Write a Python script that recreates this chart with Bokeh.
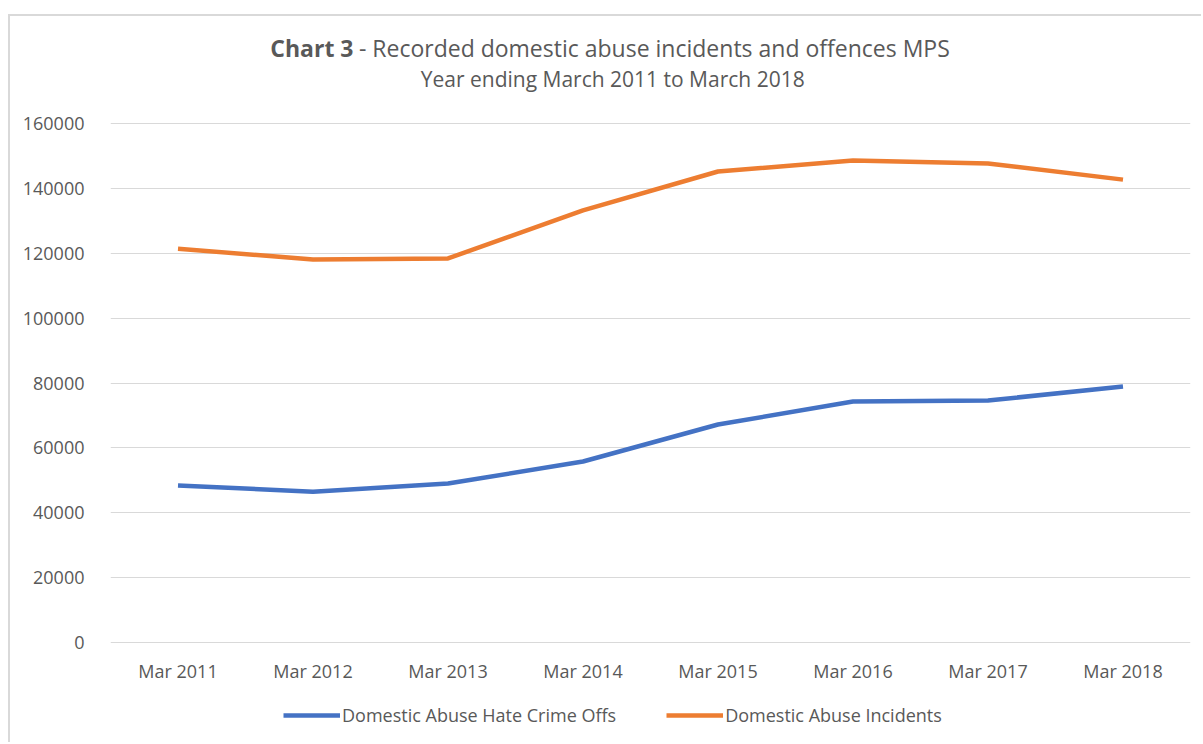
from bokeh.plotting import figure
from bokeh.models import Legend, LegendItem, ColumnDataSource, Range1d, BasicTickFormatter
from bokeh.core.properties import value
from bokeh.embed import file_html
from bokeh.resources import INLINE

categories = ["Mar 2011", "Mar 2012", "Mar 2013", "Mar 2014", "Mar 2015", "Mar 2016", "Mar 2017", "Mar 2018"]
hate_crime_offs = [48400, 46500, 49000, 55800, 67200, 74300, 74600, 78900]
incidents = [121400, 118100, 118400, 133200, 145200, 148600, 147700, 142700]
y_ticks = [0, 20000, 40000, 60000, 80000, 100000, 120000, 140000, 160000]
title_bold = "Chart 3"
title_rest = "- Recorded domestic abuse incidents and offences MPS"
subtitle = "Year ending March 2011 to March 2018"

FONT = "Open Sans"
GRAY = "#595959"

# 160000 -> 519 px; page canvas placed at (10, 16)
PX = 160000 / 519.0
p = figure(x_range=categories, y_range=Range1d(-(744 - 642) * PX, (642 - 16) * PX),
           x_axis_location=None,
           width=1193, height=728, output_backend="svg", toolbar_location=None,
           min_border_left=100, min_border_right=13, min_border_top=0, min_border_bottom=0)
p.styles = {"margin-left": "8px", "margin-top": "14px",
            "border-left": "2px solid #d9d9d9", "border-top": "2px solid #d9d9d9"}
p.outline_line_color = None
p.background_fill_color = "white"
p.border_fill_color = "white"

p.xgrid.grid_line_color = None
p.ygrid.grid_line_color = "#d9d9d9"
p.ygrid.grid_line_width = 1
p.yaxis.ticker = y_ticks
p.yaxis.formatter = BasicTickFormatter(use_scientific=False)
p.yaxis.axis_line_color = None
p.yaxis.major_tick_line_color = None
p.yaxis.minor_tick_line_color = None
p.yaxis.major_label_text_font = FONT
p.yaxis.major_label_text_font_size = "18px"
p.yaxis.major_label_text_color = GRAY
p.yaxis.major_label_standoff = 20

src = ColumnDataSource(dict(cat=categories, blue=hate_crime_offs, orange=incidents,
                            lab_y=[-(670 - 642) * PX] * len(categories)))
r1 = p.line("cat", "blue", source=src, line_color="#4472C4", line_width=4.5)
r2 = p.line("cat", "orange", source=src, line_color="#ED7D31", line_width=4.5)

# category labels (x axis)
p.text(x="cat", y="lab_y", text="cat", source=src, text_font=value(FONT), text_font_size="18px",
       text_color=GRAY, text_align="center", text_baseline="middle")

# titles
p.text(x=[1.80], y=[(642 - 47) * PX], text=[title_bold], text_font=value(FONT), text_font_size="23px",
       text_font_style="bold", text_color=GRAY, text_align="right", text_baseline="middle")
p.text(x=[1.84], y=[(642 - 47) * PX], text=[title_rest], text_font=value(FONT), text_font_size="23px",
       text_color=GRAY, text_align="left", text_baseline="middle")
p.text(x=[3.72], y=[(642 - 78) * PX], text=[subtitle], text_font=value(FONT), text_font_size="21px",
       text_color=GRAY, text_align="center", text_baseline="middle")

legend = Legend(items=[LegendItem(label="Domestic Abuse Hate Crime Offs", renderers=[r1]),
                       LegendItem(label="Domestic Abuse Incidents", renderers=[r2])],
                orientation="horizontal", location=(173, 17),
                label_text_font=FONT, label_text_font_size="18px", label_text_color=GRAY,
                glyph_width=57, glyph_height=20, label_height=20, label_standoff=2, spacing=50,
                border_line_color=None, background_fill_alpha=0, margin=0, padding=0)
p.add_layout(legend, "center")

open("out.html", "w").write(file_html(p, INLINE))
